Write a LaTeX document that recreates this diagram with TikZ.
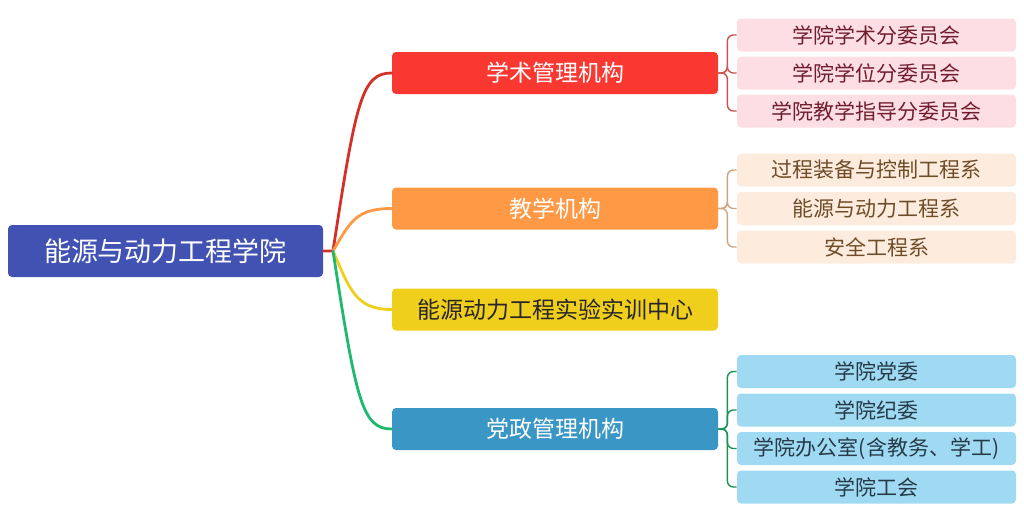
\documentclass[tikz,border=0pt]{standalone}
\usepackage{fontspec}
\setmainfont{Noto Sans CJK SC}
\definecolor{rootblue}{RGB}{65,82,179}
\definecolor{xred}{RGB}{250,56,50}
\definecolor{xorange}{RGB}{255,153,70}
\definecolor{xyellow}{RGB}{240,206,28}
\definecolor{xblue}{RGB}{58,150,196}
\definecolor{xgreen}{RGB}{30,185,110}
\definecolor{pinkleaf}{RGB}{253,222,228}
\definecolor{pinktext}{RGB}{112,30,45}
\definecolor{peachleaf}{RGB}{253,236,222}
\definecolor{peachtext}{RGB}{110,76,40}
\definecolor{skyleaf}{RGB}{160,218,242}
\definecolor{skytext}{RGB}{38,58,72}
\begin{document}
\begin{tikzpicture}[x=0.5pt,y=-0.5pt,
  root/.style={fill=rootblue,text=white,rounded corners=2pt,minimum width=157.5pt,minimum height=26pt,inner sep=0pt,font=\fontsize{13.5}{14}\selectfont},
  main/.style={text=white,rounded corners=2pt,minimum width=163pt,minimum height=21pt,inner sep=0pt,font=\fontsize{11.5}{12}\selectfont},
  leaf/.style={rounded corners=2pt,minimum width=139.5pt,minimum height=16.5pt,inner sep=0pt,font=\fontsize{10.5}{11}\selectfont},
  branch/.style={line width=1.4pt,line cap=round},
  brace/.style={line width=0.7pt,rounded corners=3pt}]
\useasboundingbox (0,0) rectangle (1024,514);
% root and main branches
\node[root] (root) at (165.5,251) {能源与动力工程学院};
\coordinate (hub) at (333,251);
\node[main,fill=xred] (xs) at (555,73) {学术管理机构};
\node[main,fill=xorange] (jx) at (555,208.5) {教学机构};
\node[main,fill=xyellow,text=black!85] (sy) at (555,309.5) {能源动力工程实验实训中心};
\node[main,fill=xblue] (dz) at (555,429) {党政管理机构};
\draw[branch,color=xred!85!black] (root.east) -- (hub) .. controls (356,100) and (362,73) .. (xs.west);
\draw[branch,color=xorange] (hub) .. controls (350,222) and (356,208.5) .. (jx.west);
\draw[branch,color=xyellow] (hub) .. controls (350,290) and (356,309.5) .. (sy.west);
\draw[branch,color=xgreen] (hub) .. controls (356,400) and (362,429) .. (dz.west);
% leaves
\foreach \t/\y [count=\i] in {学院学术分委员会/35,学院学位分委员会/73,学院教学指导分委员会/111} {
  \node[leaf,fill=pinkleaf,text=pinktext] (xs\i) at (876.5,\y) {\t};
  \draw[brace,color=xred!60!gray] (xs.east) -- ++(9,0) |- (xs\i.west);
}
\foreach \t/\y [count=\i] in {过程装备与控制工程系/170,能源与动力工程系/208.5,安全工程系/247} {
  \node[leaf,fill=peachleaf,text=peachtext] (jx\i) at (876.5,\y) {\t};
  \draw[brace,color=xorange!55!gray!80!white] (jx.east) -- ++(9,0) |- (jx\i.west);
}
\foreach \t/\y [count=\i] in {学院党委/371.5,学院纪委/410,学院办公室(含教务、学工)/448.5,学院工会/487} {
  \node[leaf,fill=skyleaf,text=skytext] (dz\i) at (876.5,\y) {\t};
  \draw[brace,color=xgreen!80!black] (dz.east) -- ++(9,0) |- (dz\i.west);
}
\end{tikzpicture}
\end{document}
